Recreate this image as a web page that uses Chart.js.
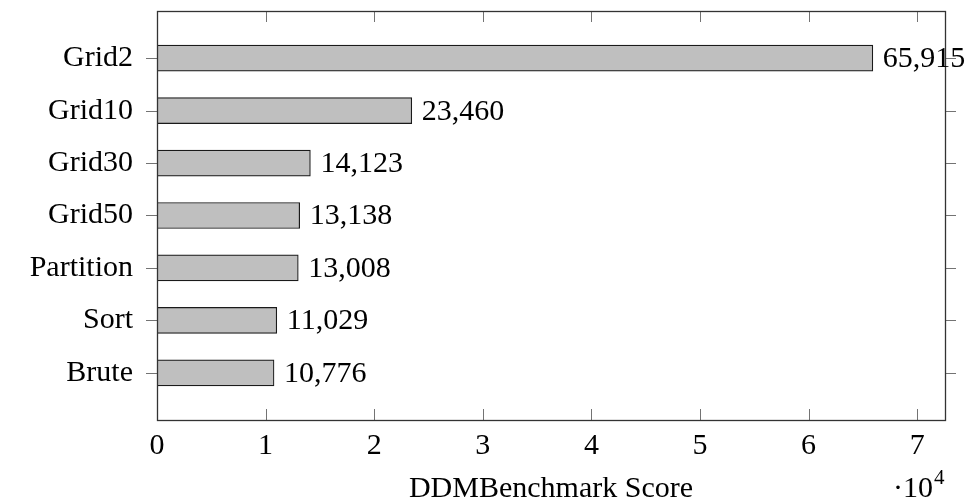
<!DOCTYPE html>
<html>
<head>
<meta charset="utf-8">
<script src="https://cdn.jsdelivr.net/npm/chart.js@4/dist/chart.umd.min.js"></script>
<style>
  html, body { margin: 0; padding: 0; background: #fff; }
  #wrap { width: 977px; height: 503px; position: relative; }
</style>
</head>
<body>
<div id="wrap"><canvas id="c" width="977" height="503"></canvas></div>
<script>
const categories = ["Grid2", "Grid10", "Grid30", "Grid50", "Partition", "Sort", "Brute"];
const scores = [65915, 23460, 14123, 13138, 13008, 11029, 10776];
const valueLabels = ["65,915", "23,460", "14,123", "13,138", "13,008", "11,029", "10,776"];
const xTickValues = [0, 10000, 20000, 30000, 40000, 50000, 60000, 70000];
const xAxisTitle = "DDMBenchmark Score";
const xScaleNote = "\u00B710";
const xScaleExp = "4";

const FONT = "'Liberation Serif', 'Times New Roman', serif";

const framePlugin = {
  id: 'frame',
  afterDatasetsDraw(chart) {
    const ctx = chart.ctx;
    const a = chart.chartArea;
    const xs = chart.scales.x, ys = chart.scales.y;
    ctx.save();
    // tick marks
    ctx.strokeStyle = 'rgba(0,0,0,0.55)';
    ctx.lineWidth = 1;
    ctx.beginPath();
    xTickValues.forEach(v => {
      const px = Math.round(xs.getPixelForValue(v)) + 0.5;
      ctx.moveTo(px, a.bottom); ctx.lineTo(px, a.bottom - 11);
      ctx.moveTo(px, a.top); ctx.lineTo(px, a.top + 11);
    });
    categories.forEach((c, i) => {
      const py = Math.round(ys.getPixelForValue(i)) + 0.5;
      ctx.moveTo(a.left - 11, py); ctx.lineTo(a.left, py);
      ctx.moveTo(a.right, py); ctx.lineTo(a.right + 11, py);
    });
    ctx.stroke();
    // box
    ctx.strokeStyle = '#333';
    ctx.lineWidth = 1.3;
    ctx.strokeRect(Math.round(a.left) + 0.5, Math.round(a.top) + 0.5,
                   Math.round(a.right - a.left), Math.round(a.bottom - a.top));
    // value labels
    ctx.fillStyle = '#000';
    ctx.font = '30px ' + FONT;
    ctx.textBaseline = 'middle';
    ctx.textAlign = 'left';
    const meta = chart.getDatasetMeta(0);
    meta.data.forEach((bar, i) => {
      ctx.fillText(valueLabels[i], bar.x + 10, bar.y + 1);
    });
    // scale note ·10^4
    ctx.textBaseline = 'alphabetic';
    ctx.font = '30px ' + FONT;
    const nx = 893;
    ctx.fillText(xScaleNote, nx, 497);
    const w = ctx.measureText(xScaleNote).width;
    ctx.font = '21px ' + FONT;
    ctx.fillText(xScaleExp, nx + w + 1, 484);
    ctx.restore();
  }
};

new Chart(document.getElementById('c'), {
  type: 'bar',
  data: {
    datasets: [{
      data: scores.map((v, i) => ({ x: v, y: i })),
      backgroundColor: '#bfbfbf',
      borderColor: '#1a1a1a',
      borderWidth: 1.2,
      borderSkipped: false,
      barThickness: 26
    }]
  },
  options: {
    indexAxis: 'y',
    responsive: false,
    animation: false,
    devicePixelRatio: 1,
    layout: { padding: { top: 11, right: 32, left: 0, bottom: 0 } },
    plugins: { legend: { display: false }, tooltip: { enabled: false } },
    scales: {
      x: {
        type: 'linear',
        min: 0,
        max: 72560,
        offset: false,
        grid: { display: false },
        border: { display: false },
        afterBuildTicks(s) { s.ticks = xTickValues.map(v => ({ value: v })); },
        afterFit(s) { s.height = 83; s.paddingLeft = 0; s.paddingRight = 0; },
        ticks: {
          color: '#000',
          padding: 0,
          maxRotation: 0,
          font: { family: FONT, size: 30 },
          callback: v => String(v / 10000)
        },
        title: {
          display: true,
          text: xAxisTitle,
          color: '#000',
          font: { family: FONT, size: 30 },
          padding: { top: 0, bottom: -4 }
        }
      },
      y: {
        type: 'linear',
        reverse: true,
        min: -0.9,
        max: 6.9,
        offset: false,
        grid: { display: false },
        border: { display: false },
        afterBuildTicks(s) { s.ticks = categories.map((c, i) => ({ value: i })); },
        afterFit(s) { s.width = 157; s.paddingTop = 0; s.paddingBottom = 0; },
        ticks: {
          color: '#000',
          padding: 16,
          font: { family: FONT, size: 30 },
          callback: v => categories[v] ?? ''
        }
      }
    }
  },
  plugins: [framePlugin]
});
</script>
</body>
</html>
